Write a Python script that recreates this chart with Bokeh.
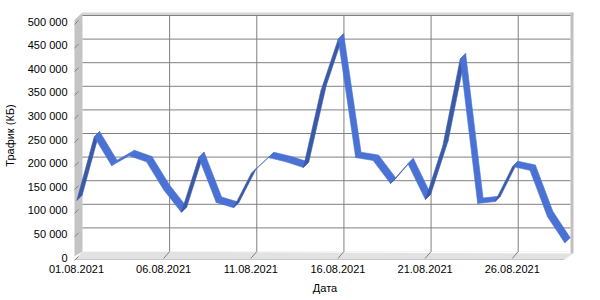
from bokeh.plotting import figure
from bokeh.models import Range1d, FixedTicker
from bokeh.embed import file_html
from bokeh.resources import INLINE

# ---- data ----
dates = ["01.08.2021", "02.08.2021", "03.08.2021", "04.08.2021", "05.08.2021",
         "06.08.2021", "07.08.2021", "08.08.2021", "09.08.2021", "10.08.2021",
         "11.08.2021", "12.08.2021", "13.08.2021", "14.08.2021", "15.08.2021",
         "16.08.2021", "17.08.2021", "18.08.2021", "19.08.2021", "20.08.2021",
         "21.08.2021", "22.08.2021", "23.08.2021", "24.08.2021", "25.08.2021",
         "26.08.2021", "27.08.2021", "28.08.2021", "29.08.2021"]
traffic = [120000, 255000, 194000, 215000, 202000, 142000, 95000, 211000, 116000,
           105000, 177000, 211000, 202000, 190000, 352000, 462000, 211000, 205000,
           156000, 198000, 122000, 236000, 420000, 114000, 118000, 192000, 184000,
           86000, 30000]
y_ticks = [0, 50000, 100000, 150000, 200000, 250000, 300000, 350000, 400000, 450000, 500000]
x_tick_idx = [0, 5, 10, 15, 20, 25]

# ---- geometry (3D depth offset in data units) ----
PX_PER_DAY = 17.5
PX_PER_VAL = 236 / 500000
DX = 6 / PX_PER_DAY
DY = 6 / PX_PER_VAL
days = list(range(1, len(traffic) + 1))
X0, X1 = days[0], days[-1]
YMAX = y_ticks[-1]

p = figure(width=600, height=300, output_backend="svg", toolbar_location=None,
           x_range=Range1d(X0 - 2 / PX_PER_DAY, X0 - 2 / PX_PER_DAY + 503 / PX_PER_DAY),
           y_range=Range1d(-3 / PX_PER_VAL, 247 / PX_PER_VAL))
p.min_border_left = 72
p.min_border_right = 25
p.min_border_top = 10
p.min_border_bottom = 40
p.outline_line_color = None
p.background_fill_color = "white"
p.xgrid.visible = False
p.ygrid.visible = False

GRID = "#808080"
px_x = 1 / PX_PER_DAY
px_y = 1 / PX_PER_VAL

# back wall
p.patch([X0 + DX, X1 + DX, X1 + DX, X0 + DX], [DY, DY, YMAX + DY, YMAX + DY],
        fill_color="white", line_color=None)
# top edge of back wall
p.patch([X0 + DX, X1 + DX + 3 * px_x, X1 + DX + 3 * px_x, X0 + DX],
        [YMAX + DY, YMAX + DY, YMAX + DY + 3 * px_y, YMAX + DY + 3 * px_y],
        fill_color="#d6d6d6", line_color=None)
# right edge of back wall
p.patch([X1 + DX, X1 + DX + 3 * px_x, X1 + DX + 3 * px_x, X1 + DX],
        [DY - 2 * px_y, DY - 2 * px_y, YMAX + DY + 3 * px_y, YMAX + DY + 3 * px_y],
        fill_color="#c0c0c0", line_color=None)
# left wall
p.patch([X0 - 4 * px_x, X0 + DX, X0 + DX, X0 - 4 * px_x],
        [0, DY, YMAX + DY + 3 * px_y, YMAX],
        fill_color="#c4c4c4", line_color=None)
# floor
p.patch([X0 - 2 * px_x, X1, X1 + DX + 3 * px_x, X0 + DX],
        [-2 * px_y, -2 * px_y, DY - 2 * px_y, DY],
        fill_color="#e2e2e2", line_color=None)
p.line([X0 - 2 * px_x, X1], [-2 * px_y, -2 * px_y], line_color="#c8c8c8", line_width=1)
p.line([X0 + DX, X1 + DX], [DY, DY], line_color="#f4f4f4", line_width=1)
# front axis line
p.line([X0 - 3 * px_x, X0 - 3 * px_x], [-2 * px_y, YMAX], line_color="#c8c8c8", line_width=1)

# back grid lines (horizontal)
for v in y_ticks[1:]:
    p.line([X0 + DX, X1 + DX], [v + DY, v + DY], line_color=GRID, line_width=1)
# y tick marks on the left wall
for v in y_ticks:
    p.line([X0 - 3 * px_x, X0 + 2 * px_x], [v - 4 * px_y, v + 1 * px_y],
           line_color=GRID, line_width=1)
# back grid lines (vertical) + floor diagonals
for i in x_tick_idx[1:]:
    d = days[i]
    p.line([d + DX, d + DX], [DY, YMAX + DY], line_color=GRID, line_width=1)
    p.line([d, d + DX], [-1 * px_y, DY], line_color=GRID, line_width=1)

# ribbon
F0, F1 = 0.05, 0.95
LIGHT = "#4a72d4"
DARK = "#3a5aa8"
for i in range(len(traffic) - 1):
    d0, d1 = days[i], days[i + 1]
    v0, v1 = traffic[i], traffic[i + 1]
    xs = [d0 + F0 * DX, d1 + F0 * DX, d1 + F1 * DX, d0 + F1 * DX]
    ys = [v0 + F0 * DY, v1 + F0 * DY, v1 + F1 * DY, v0 + F1 * DY]
    rise_px = (v1 - v0) * PX_PER_VAL
    col = DARK if rise_px > PX_PER_DAY else LIGHT
    p.patch(xs, ys, fill_color=col, line_color=col, line_width=0.6)

# axes
FONT = "Liberation Sans"
p.xaxis.ticker = FixedTicker(ticks=[days[i] for i in x_tick_idx])
p.xaxis.major_label_overrides = {days[i]: dates[i] for i in x_tick_idx}
p.yaxis.ticker = FixedTicker(ticks=y_ticks)
p.yaxis.major_label_overrides = {v: f"{v:,}".replace(",", " ") for v in y_ticks}
for ax in (p.xaxis[0], p.yaxis[0]):
    ax.axis_line_color = None
    ax.major_tick_line_color = None
    ax.minor_tick_line_color = None
    ax.major_tick_out = 0
    ax.major_tick_in = 0
    ax.major_label_text_font = FONT
    ax.major_label_text_font_size = "11px"
    ax.major_label_text_color = "black"
    ax.axis_label_text_font = FONT
    ax.axis_label_text_font_size = "11px"
    ax.axis_label_text_font_style = "normal"
    ax.axis_label_text_color = "black"
p.xaxis.axis_label = "Дата"
p.yaxis.axis_label = "Трафик (КБ)"
p.xaxis.major_label_standoff = 4
p.xaxis.axis_label_standoff = 6
p.yaxis.major_label_standoff = 7
p.yaxis.axis_label_standoff = 9

open("out.html", "w").write(file_html(p, INLINE))
